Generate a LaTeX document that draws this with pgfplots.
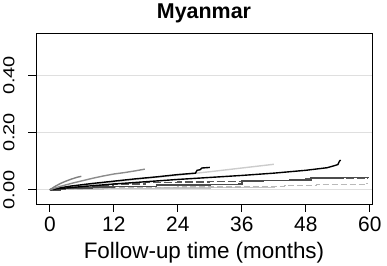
\documentclass[border=0pt]{standalone}
\usepackage{pgfplots}
\pgfplotsset{compat=1.18}
\usepackage{fontspec}
\setmainfont{Liberation Sans}
\newcommand{\yl}[1]{\scalebox{1}[0.8]{#1}}
\begin{document}
\begin{tikzpicture}
\begin{axis}[
  at={(0,0)}, anchor=south west,
  scale only axis, width=336bp, height=171bp,
  xmin=-2.6, xmax=60.4, ymin=-0.05, ymax=0.548,
  /pgf/number format/assume math mode=true,
  axis line style={line width=0.9pt},
  xtick={0,12,24,36,48,60},
  ytick={0,0.2,0.4},
  yticklabels={\yl{0.00},\yl{0.20},\yl{0.40}},
  tick align=outside, major tick length=7.5bp,
  xtick pos=bottom, ytick pos=left,
  tick style={black, line width=0.8pt},
  ymajorgrids, grid style={gray!25, line width=1pt},
  xticklabel style={font=\fontsize{21}{21}\selectfont, anchor=base, yshift=-20bp},
  yticklabel style={font=\fontsize{20}{20}\selectfont, anchor=base, xshift=-14bp, rotate=90},
  xlabel={Follow-up time (months)},
  xlabel style={font=\fontsize{22.5}{22.5}\selectfont, at={(axis description cs:0.5,0)}, anchor=base, yshift=-54bp},
  title={\textbf{Myanmar}},
  title style={font=\fontsize{21.5}{21.5}\selectfont, at={(axis description cs:0.5,1)}, anchor=base, yshift=9bp},
  clip=true,
]
% light gray low solid
\addplot[const plot, gray!45, line width=1.4pt] coordinates {(0,0)(4,0.002)(10,0.004)(20,0.006)(30,0.007)(36,0.008)(42,0.009)};
% light gray dashed
\addplot[const plot, gray!55, line width=1.4pt, dash pattern=on 6pt off 3pt] coordinates {(0,0)(6,0.006)(12,0.008)(24,0.01)(36,0.012)(44,0.015)(50,0.018)(59,0.022)(59.6,0.022)};
% dark gray dashed
\addplot[const plot, gray!70!black, line width=1.2pt, dash pattern=on 8pt off 3pt] coordinates {(0,0)(3,0.008)(6,0.014)(12,0.02)(18,0.024)(24,0.027)(30,0.03)(36,0.033)(48,0.038)(59.6,0.04)};
% dark gray thick stepped to 60
\addplot[const plot, gray!60!black, line width=1.6pt] coordinates {(0,0)(2,0.004)(4,0.006)(8,0.01)(12,0.012)(20,0.016)(30,0.019)(35.5,0.021)(36,0.03)(40,0.032)(45,0.035)(49,0.04)(55,0.043)(59.6,0.044)};
% light gray long
\addplot[gray!40, line width=1.4pt] coordinates {(0,0)(3,0.008)(6,0.015)(12,0.028)(18,0.04)(24,0.051)(30,0.063)(36,0.076)(42,0.089)};
% black long
\addplot[black, line width=1.4pt] coordinates {(0,0)(3,0.006)(6,0.011)(12,0.02)(18,0.028)(24,0.036)(30,0.043)(36,0.05)(42,0.058)(48,0.068)(52,0.077)(53.5,0.085)(54,0.088)(54.3,0.1)(54.5,0.104)};
% black short
\addplot[black, line width=1.4pt] coordinates {(0,0)(2,0.007)(4,0.013)(8,0.022)(12,0.03)(16,0.038)(20,0.045)(24,0.053)(27.3,0.058)(27.6,0.068)(28.2,0.07)(28.5,0.076)(30,0.078)};
% gray medium long
\addplot[gray!90, line width=1.4pt] coordinates {(0,0)(1,0.006)(2,0.012)(4,0.022)(6,0.031)(8,0.04)(10,0.048)(12,0.055)(14,0.06)(16,0.066)(17.8,0.072)};
% gray short steep
\addplot[gray, line width=1.4pt] coordinates {(0,0)(1,0.012)(2,0.022)(3,0.03)(4,0.037)(5,0.043)(5.9,0.047)};
\end{axis}
\useasboundingbox (-36bp,-61bp) rectangle (351bp,201bp);
\end{tikzpicture}
\end{document}
